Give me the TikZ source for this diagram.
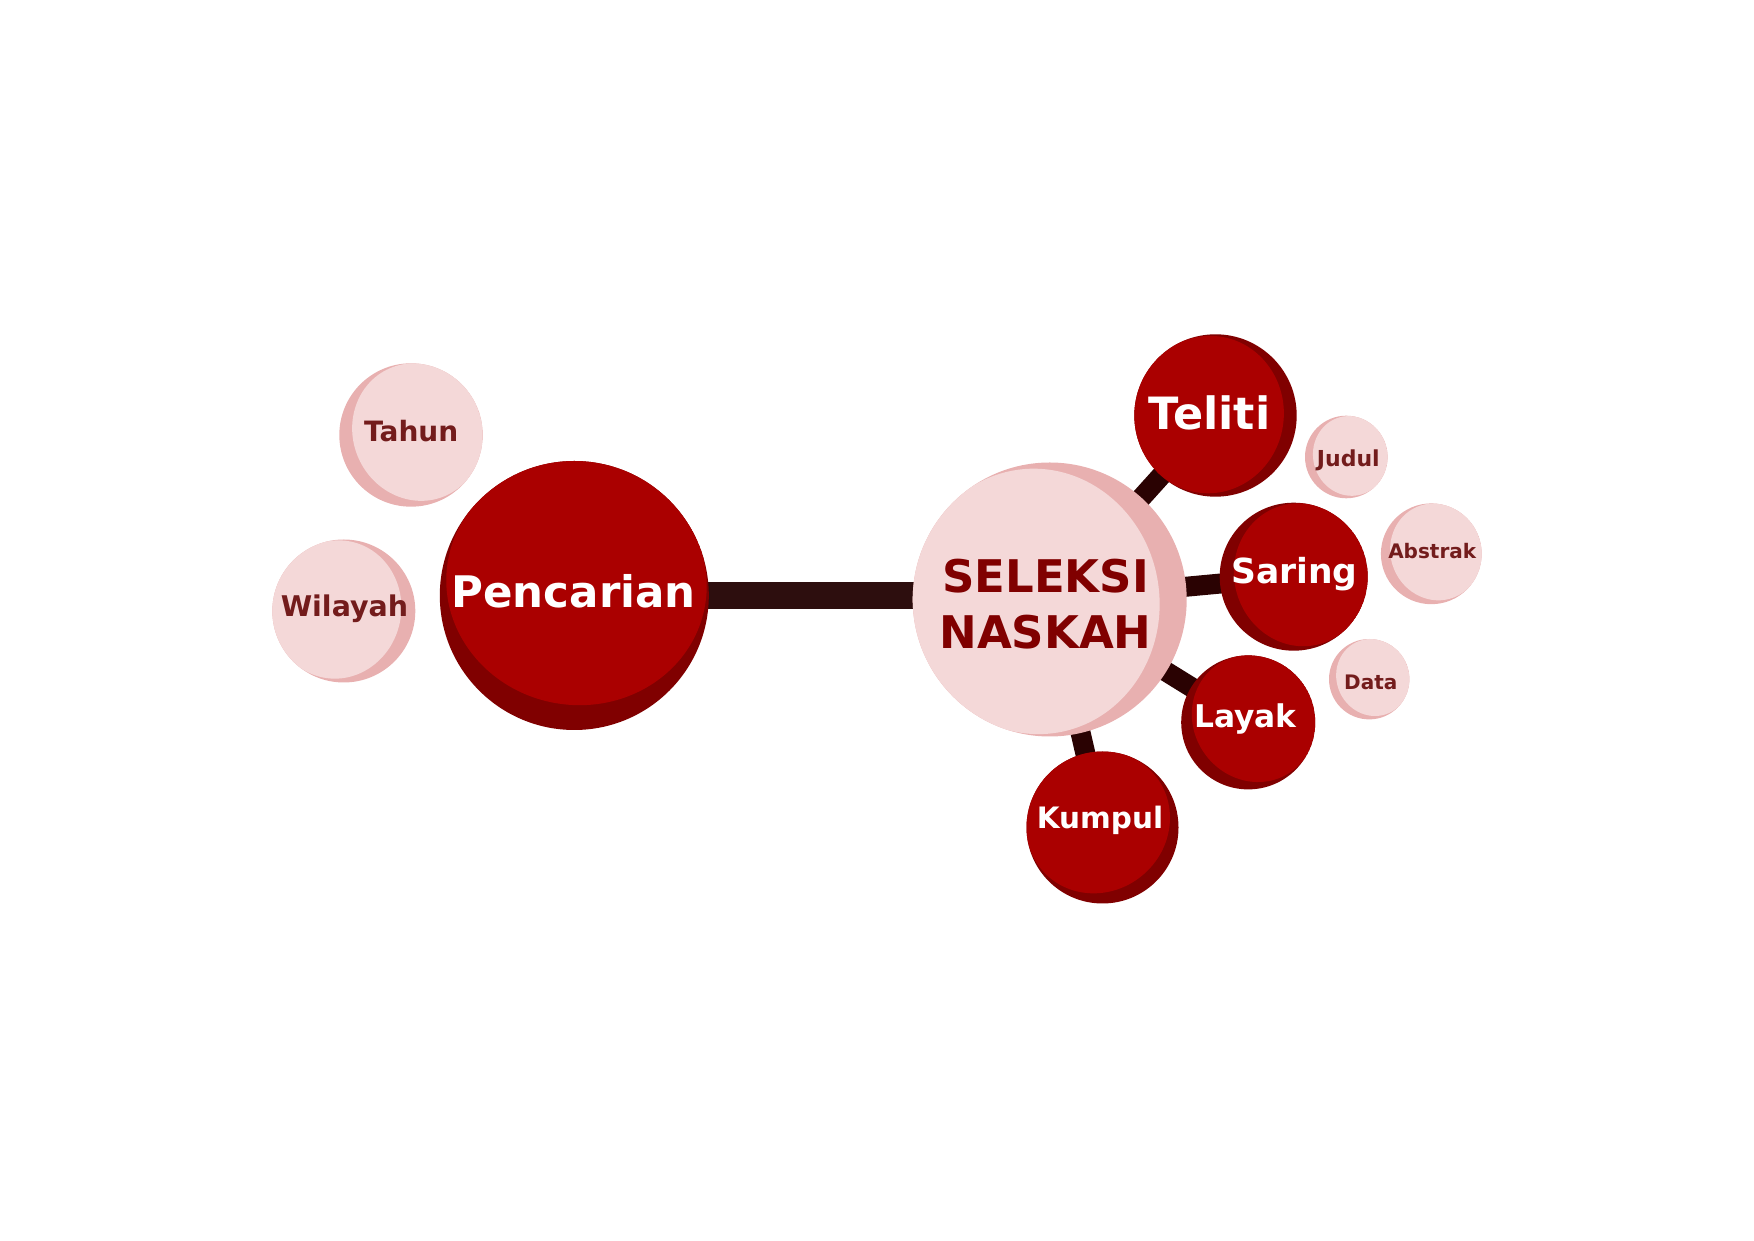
\documentclass[tikz,border=0pt]{standalone}
\usepackage{fontspec}
\setmainfont{DejaVu Sans}
\usetikzlibrary{backgrounds, calc}
\definecolor{merahtua}{RGB}{128,0,0}
\definecolor{merah}{RGB}{170,0,0}
\definecolor{pinktua}{RGB}{232,176,176}
\definecolor{pink}{RGB}{244,216,216}
\definecolor{teksmerah}{RGB}{115,28,28}
\definecolor{garis}{RGB}{42,2,2}
\definecolor{garisutama}{RGB}{45,14,14}

\tikzset{
  % #1 radius, #2 arah sorotan, #3 geser, #4 warna gelap, #5 warna terang
  bubble/.style n args={5}{circle, inner sep=0pt, minimum size=2*#1, fill=#4,
    path picture={\fill[#5] (path picture bounding box.center) ++(#2:#3*#1)
      ellipse [x radius={(1-#3)*#1}, y radius={0.97*#1}, rotate=#2];}},
  redbub/.style n args={3}{bubble={#1}{#2}{#3}{merahtua}{merah}},
  pinkbub/.style n args={3}{bubble={#1}{#2}{#3}{pinktua}{pink}},
  bublabel/.style={font=\bfseries\fontsize{#1}{#1}\selectfont, anchor=base, inner sep=0pt},
  whitelabel/.style={bublabel=#1, text=white},
  pinklabel/.style={bublabel=#1, text=teksmerah},
  link/.style={draw=garis, line width=20pt, shorten <=-6pt, shorten >=-6pt},
}

\begin{document}
\begin{tikzpicture}[x=1pt, y=1pt]
    \useasboundingbox (0,0) rectangle (1754,1240);

    % ---- PUSAT ----
    \node[redbub={134.5pt}{80}{0.094}] (pen) at (574.3, 644.5) {};
    \node[bubble={137pt}{188}{0.1}{pinktua}{pink}] (sel) at (1049.7, 640.5) {};

    % ---- CABANG KANAN ----
    \node[redbub={81.2pt}{172}{0.08}] (tel) at (1215.5, 824.5) {};
    \node[redbub={74pt}{15}{0.1}] (sar) at (1293.7, 663.3) {};
    \node[redbub={67pt}{35}{0.1}] (lay) at (1248.2, 517.6) {};
    \node[redbub={76pt}{130}{0.09}] (kum) at (1102.5, 412.5) {};

    % ---- GELEMBUNG KECIL ----
    \node[pinkbub={71.7pt}{24}{0.1}] (tah) at (411, 805) {};
    \node[pinkbub={71.5pt}{168}{0.1}] (wil) at (343.8, 629) {};
    \node[pinkbub={41.3pt}{15}{0.1}] (jud) at (1346.3, 783) {};
    \node[pinkbub={50.4pt}{22}{0.1}] (abs) at (1431.3, 686.2) {};
    \node[pinkbub={40.2pt}{25}{0.1}] (dat) at (1369.2, 560.8) {};

    % ---- GARIS ----
    \begin{scope}[on background layer]
        \draw[link, draw=garisutama, line width=27pt] (pen) -- (pen -| sel);
        \draw[link] (sel) -- (tel);
        \draw[link] (sel) -- (sar);
        \draw[link] (sel) -- (lay);
        \draw[link] (sel) -- (kum);
    \end{scope}

    % ---- TEKS ----
    \node[whitelabel=43.5pt] (pen-t) at (573.7, 632.7) {Pencarian};
    \node[bublabel=45pt, text=merahtua, anchor=center, align=center,
          font=\bfseries\fontsize{45pt}{56pt}\selectfont] (sel-t) at (1045.5, 636)
        {SELEKSI\\NASKAH};
    \node[whitelabel=44.5pt] (tel-t) at (1209.5, 810.5) {Teliti};
    \node[whitelabel=34.5pt] (sar-t) at (1294.3, 656.7) {Saring};
    \node[whitelabel=31.3pt] (lay-t) at (1245.4, 512.4) {Layak};
    \node[whitelabel=29.5pt] (kum-t) at (1100, 411.7) {Kumpul};
    \node[pinklabel=28pt] (tah-t) at (411.2, 798.3) {Tahun};
    \node[pinklabel=28.5pt] (wil-t) at (344.5, 623.3) {Wilayah};
    \node[pinklabel=22pt] (jud-t) at (1348.3, 773.3) {Judul};
    \node[pinklabel=20pt] (abs-t) at (1432.2, 681.7) {Abstrak};
    \node[pinklabel=20pt] (dat-t) at (1370.8, 550.7) {Data};
\end{tikzpicture}
\end{document}
